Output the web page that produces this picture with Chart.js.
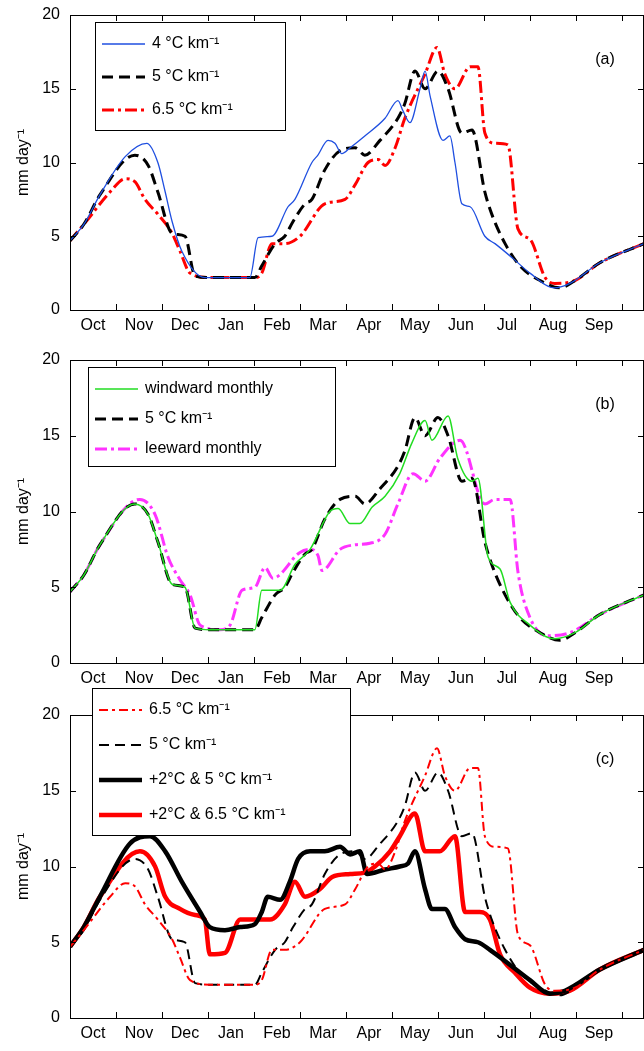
<!DOCTYPE html>
<html><head><meta charset="utf-8">
<script src="https://cdn.jsdelivr.net/npm/chart.js@4"></script>
<style>body{margin:0;background:#fff;width:644px;height:1051px;overflow:hidden;position:relative}
.c{position:absolute;left:0}</style></head><body>
<div class="c" style="top:0;width:644px;height:340px"><canvas id="a"></canvas></div>
<div class="c" style="top:345px;width:644px;height:348px"><canvas id="b"></canvas></div>
<div class="c" style="top:680px;width:644px;height:368px"><canvas id="cc"></canvas></div>
<script>
const monthLabels=['Oct','Nov','Dec','Jan','Feb','Mar','Apr','May','Jun','Jul','Aug','Sep'];
const yTicks=[0,5,10,15,20];
// x in months since 1 Oct
const x4=[0,0.3,0.65,1.2,1.67,1.91,2.07,2.22,2.43,2.93,3.91,4.09,4.39,4.74,4.89,5.26,5.39,5.61,5.76,5.91,6.09,6.41,6.85,7.13,7.24,7.39,7.61,7.72,7.83,8.11,8.26,8.37,8.52,8.7,9.02,9.24,9.63,10.0,10.54,10.87,11.52,12.48];
const y4=[4.7,5.8,7.8,10.4,11.3,10,8,6,4,2.2,2.2,4.9,5,7,7.5,10,10.5,11.5,11.3,10.6,11,11.8,13,14.2,13.5,12.7,15,16.2,14.5,11.5,11.8,10,7.2,7,5,4.5,3.5,2.5,1.5,1.8,3.2,4.5];
const x5=[0,0.3,0.65,1.41,1.7,1.91,2.22,2.5,2.72,3.04,4.02,4.17,4.46,4.67,4.85,5.11,5.26,5.54,5.87,6.2,6.41,6.74,7.13,7.28,7.5,7.72,8.0,8.22,8.52,8.74,9.02,9.17,9.46,9.78,10.22,10.65,10.98,11.52,12.48];
const y5=[4.7,5.8,7.8,10.5,9.8,8,5.2,5,2.3,2.2,2.2,3,4.5,5,6,7.2,7.5,9.5,10.8,11,10.5,11.5,13,14,16.2,15,16.2,15,12,12.2,8,6.5,4.5,3,2,1.5,2,3.2,4.5];
const x65=[0,0.3,0.87,1.2,1.41,1.63,1.91,2.22,2.39,2.61,3.04,4.02,4.17,4.39,4.67,5.0,5.54,5.98,6.2,6.48,6.7,6.85,7.07,7.28,7.72,7.98,8.15,8.37,8.7,8.87,9.02,9.24,9.52,9.74,10.0,10.33,10.54,10.98,11.52,12.48];
const y65=[4.7,5.8,8,8.9,8.7,7.5,6.5,5.2,4,2.5,2.2,2.2,2.5,4.5,4.5,5,7.2,7.5,8.5,10,10.2,9.8,11,13,16,17.8,16,15,16.5,16.5,12,11.3,11.2,5.5,4.8,2.2,1.8,2,3.2,4.5];
const xW=[0,0.3,0.65,1.41,1.7,1.91,2.22,2.5,2.72,3.04,4.02,4.17,4.57,4.89,5.22,5.65,5.83,6.09,6.3,6.57,6.85,7.17,7.43,7.72,7.87,8.22,8.43,8.74,8.87,9.09,9.35,9.57,10.0,10.54,10.98,11.52,12.48];
const yW=[4.7,5.8,7.8,10.5,9.8,8,5.2,5,2.3,2.2,2.2,4.8,4.8,6.5,7.5,10,10.2,9.2,9.2,10.3,11,12.5,14.5,16,14.7,16.3,13.5,12,12.2,7,6.2,4,2.5,1.6,2,3.2,4.5];
const xL=[0,0.3,0.65,1.52,1.85,2.13,2.39,2.61,2.83,3.26,3.48,3.74,4.02,4.24,4.41,5.0,5.22,5.39,5.48,5.87,6.2,6.52,6.85,7.13,7.46,7.72,8.04,8.48,9.02,9.24,9.57,9.74,10.0,10.39,10.87,11.52,12.48];
const yL=[4.7,5.8,7.8,10.8,9.8,7,5.5,4.5,2.5,2.2,2.5,4.8,5,6.3,5.6,7.3,7.5,7.1,6.1,7.5,7.8,7.9,8.5,10.5,12.5,12,13.5,14.7,10.5,10.8,10.8,6,3,1.8,2,3.2,4.5];
const xB2=[0,0.3,0.65,1.3,1.74,2.07,2.43,2.83,3.04,3.37,3.7,4.02,4.17,4.3,4.57,4.78,4.96,5.22,5.54,5.87,6.09,6.3,6.46,6.85,7.17,7.35,7.5,7.72,7.87,8.15,8.37,8.59,8.87,9.13,9.57,10.0,10.43,10.76,11.52,12.48];
const yB2=[4.7,6,8,11.5,12,11,9,7,6,5.8,6,6.2,7,8,7.8,9,10.5,11,11,11.3,10.8,11,9.5,9.8,10,10.2,11,8.5,7.2,7.2,6,5.2,5,4.5,3.5,2.5,1.6,1.8,3.2,4.5];
const xR2=[0,0.3,0.65,1.52,1.85,2.07,2.39,2.72,2.93,3.04,3.37,3.7,4.02,4.35,4.67,4.89,5.11,5.43,5.7,6.09,6.41,6.63,6.96,7.17,7.5,7.72,8.04,8.37,8.59,8.91,9.13,9.35,9.67,10.0,10.43,10.87,11.52,12.48];
const yR2=[4.7,6,8,11,10,8,7.2,6.8,6.5,4.2,4.3,6.5,6.5,6.5,7.5,9,8,8.5,9.3,9.5,9.6,10,11,12,13.5,11,11,12,7,7,6.5,4.2,3,2,1.6,1.8,3.2,4.5];

const pts=(xs,ys)=>xs.map((x,i)=>({x,y:ys[i]}));
const FONT='"Liberation Sans", Arial, sans-serif';
const BLUE='#1f4fe0', RED='#ff0000', MAG='#ff33ff', GRN='#22dd22';
function ds(xs,ys,color,width,dash){return {data:pts(xs,ys),borderColor:color,borderWidth:width,borderDash:dash||[],pointRadius:0,cubicInterpolationMode:'monotone',fill:false};}
const st={
 b4:[BLUE,1.3,[]], b5:['#000',3,[11,6]], r65:[RED,3,[12,4,3,4]],
 w:[GRN,1.5,[]], l:[MAG,3,[12,4,3,4]],
 r65t:[RED,2,[9,4,3,4]], b5t:['#000',2,[10,6]], bb:['#000',4.5,[]], rr:[RED,4.5,[]]};
function make(id,sets,legend,label,padTop,legBox){
 const plug={id:'deco',afterDraw(c){
  const g=c.ctx,a=c.chartArea,xs=c.scales.x,ys=c.scales.y;
  g.save();g.strokeStyle='#000';g.lineWidth=1;g.setLineDash([]);
  g.strokeRect(a.left+0.5,a.top+0.5,a.right-a.left-1,a.bottom-a.top);
  g.beginPath();
  yTicks.forEach(v=>{const y=Math.round(ys.getPixelForValue(v))+0.5;g.moveTo(a.left,y);g.lineTo(a.left+6,y);g.moveTo(a.right,y);g.lineTo(a.right-6,y);});
  for(let m=0;m<=12;m++){const x=Math.round(xs.getPixelForValue(m))+0.5;g.moveTo(x,a.bottom);g.lineTo(x,a.bottom-6);g.moveTo(x,a.top);g.lineTo(x,a.top+6);}
  g.stroke();
  g.fillStyle='#000';g.font='16px '+FONT;g.textAlign='center';g.textBaseline='top';
  monthLabels.forEach((t,i)=>g.fillText(t,xs.getPixelForValue(i+0.5),a.bottom+8));
  g.textAlign='right';g.textBaseline='middle';
  yTicks.forEach(v=>g.fillText(String(v),a.left-10,ys.getPixelForValue(v)));
  g.save();g.translate(24,(a.top+a.bottom)/2);g.rotate(-Math.PI/2);g.textAlign='center';g.fillText('mm day\u207B\u00B9',0,0);g.restore();
  g.textAlign='center';g.fillText(label,605,a.top+45);
  const [bx,by,bw,bh,gap]=legBox;
  g.fillStyle='#fff';g.fillRect(bx,by,bw,bh);g.strokeRect(bx+0.5,by+0.5,bw,bh);
  legend.forEach((e,i)=>{const s=st[e[0]];const y=by+22+i*gap;
   g.strokeStyle=s[0];g.lineWidth=s[1];g.setLineDash(s[2]);g.beginPath();g.moveTo(bx+7,y);g.lineTo(bx+50,y);g.stroke();
   g.setLineDash([]);g.fillStyle='#000';g.textAlign='left';g.fillText(e[1],bx+57,y);});
  g.restore();}};
 new Chart(document.getElementById(id),{type:'line',
  data:{datasets:sets.map(k=>{const s=st[k[0]];return ds(k[1],k[2],s[0],s[1],s[2]);})},
  options:{responsive:true,maintainAspectRatio:false,animation:false,
   layout:{padding:{top:padTop,right:0,left:0,bottom:0}},
   plugins:{legend:{display:false},tooltip:{enabled:false}},
   scales:{x:{type:'linear',min:0,max:12.48,grid:{display:false},border:{display:false},ticks:{display:false},afterFit(s){s.height=30;}},
    y:{min:0,max:20,grid:{display:false},border:{display:false},ticks:{display:false},afterFit(s){s.width=70;}}}},
  plugins:[plug]});
}
const K='\u00B0C km\u207B\u00B9';
make('a',[['b4',x4,y4],['b5',x5,y5],['r65',x65,y65]],[['b4','4 '+K],['b5','5 '+K],['r65','6.5 '+K]],'(a)',15,[95,22,190,108,33]);
make('b',[['w',xW,yW],['b5',x5,y5],['l',xL,yL]],[['w','windward monthly'],['b5','5 '+K],['l','leeward monthly']],'(b)',15,[88,22,247,99,30]);
make('cc',[['r65t',x65,y65],['b5t',x5,y5],['bb',xB2,yB2],['rr',xR2,yR2]],[['r65t','6.5 '+K],['b5t','5 '+K],['bb','+2\u00B0C & 5 '+K],['rr','+2\u00B0C & 6.5 '+K]],'(c)',35,[92,8,258,147,35]);
</script></body></html>
